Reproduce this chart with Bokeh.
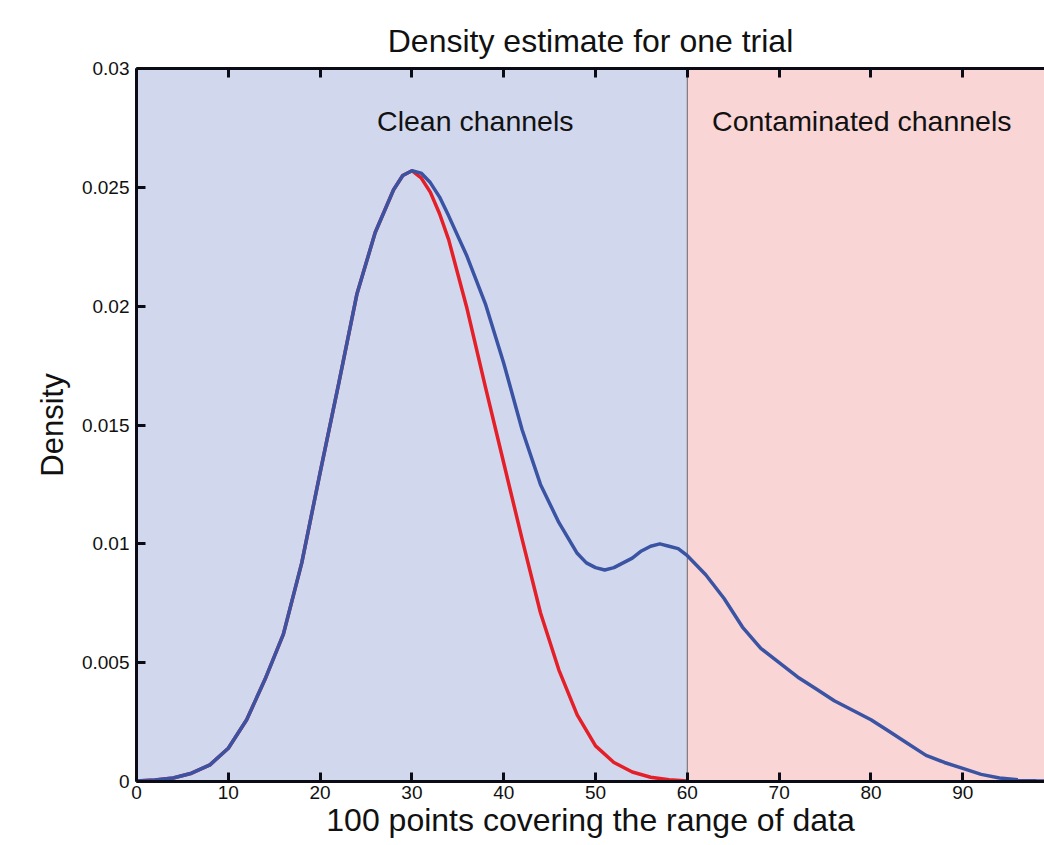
from bokeh.plotting import figure
from bokeh.models import Range1d, LinearAxis, FixedTicker
from bokeh.core.properties import value
from bokeh.embed import file_html
from bokeh.resources import INLINE

# ---- data ----
blue_x = [0, 2, 4, 6, 8, 10, 12, 14, 16, 18, 20, 22, 24, 26, 28, 29, 30, 31, 32, 33, 34, 36, 38,
          40, 42, 44, 46, 48, 49, 50, 51, 52, 53, 54, 55, 56, 57, 58, 59, 60, 62, 64, 66, 68, 70,
          72, 74, 76, 78, 80, 82, 84, 86, 88, 90, 92, 94, 96, 98, 100]
blue_y = [0.00002, 0.00006, 0.00015, 0.00035, 0.0007, 0.0014, 0.0026, 0.0043, 0.0062, 0.0092,
          0.0130, 0.0167, 0.0205, 0.0231, 0.0249, 0.0255, 0.0257, 0.0256, 0.0252, 0.0246, 0.0238,
          0.0221, 0.0201, 0.0176, 0.0148, 0.0125, 0.0109, 0.0096, 0.0092, 0.0090, 0.0089, 0.0090,
          0.0092, 0.0094, 0.0097, 0.0099, 0.0100, 0.0099, 0.0098, 0.0095, 0.0087, 0.0077, 0.0065,
          0.0056, 0.0050, 0.0044, 0.0039, 0.0034, 0.0030, 0.0026, 0.0021, 0.0016, 0.0011, 0.0008,
          0.00055, 0.0003, 0.00015, 0.00007, 0.00003, 0.00001]

red_x = [0, 2, 4, 6, 8, 10, 12, 14, 16, 18, 20, 22, 24, 26, 28, 29, 30, 31, 32, 33, 34, 36, 38,
         40, 42, 44, 46, 48, 50, 52, 54, 56, 58, 60]
red_y = [0.00002, 0.00006, 0.00015, 0.00035, 0.0007, 0.0014, 0.0026, 0.0043, 0.0062, 0.0092,
         0.0130, 0.0167, 0.0205, 0.0231, 0.0249, 0.0255, 0.0257, 0.0254, 0.0248, 0.0239, 0.0228,
         0.0199, 0.0166, 0.0134, 0.0102, 0.0071, 0.0047, 0.0028, 0.0015, 0.0008, 0.0004, 0.00018,
         0.00007, 0.00002]

region_left = [0, 60]
region_right = [60, 100]
region_colors = ["#d1d8ed", "#f9d5d6"]
region_names = ["Clean channels", "Contaminated channels"]
region_label_x = [36.9, 79.0]
threshold = 60

x_ticks = [0, 10, 20, 30, 40, 50, 60, 70, 80, 90, 100]
y_ticks = [0, 0.005, 0.01, 0.015, 0.02, 0.025, 0.03]
y_tick_labels = ["0", "0.005", "0.01", "0.015", "0.02", "0.025", "0.03"]

FONT = "Liberation Sans"
AXC = "#0b0b16"
TXT = "#111111"

p = figure(width=1044, height=845, output_backend="svg", toolbar_location=None,
           x_range=Range1d(0, 98.9), y_range=Range1d(0, 0.03),
           x_axis_location=None, y_axis_location=None,
           title="Density estimate for one trial")
p.min_border_left = 136
p.min_border_top = 68
p.min_border_right = 0
p.min_border_bottom = 64
p.outline_line_color = None
p.xgrid.visible = False
p.ygrid.visible = False
p.background_fill_color = "white"
p.border_fill_color = "white"

p.title.text_font = FONT
p.title.text_font_size = "32px"
p.title.text_font_style = "normal"
p.title.text_color = TXT
p.title.align = "center"
p.title.offset = 5
p.title.standoff = 19

# background regions
p.quad(left=region_left, right=region_right, bottom=[y_ticks[0]] * 2, top=[y_ticks[-1]] * 2,
       fill_color=region_colors, line_color=None)
# threshold line
p.segment(x0=[threshold], y0=[y_ticks[0]], x1=[threshold], y1=[y_ticks[-1]],
          line_color="#1a0f0f", line_width=1.2, line_dash="1 1")

# curves
p.line(red_x, red_y, line_color="#e41f28", line_width=3.5, line_join="round")
p.line(blue_x, blue_y, line_color="#3a53a3", line_width=3.5, line_join="round")

# region labels
p.text(x=region_label_x, y=[0.0278, 0.0278], text=region_names,
       text_font=value(FONT), text_font_size="28.5px", text_color=TXT,
       text_align="center", text_baseline="middle")

def style_axis(ax):
    ax.axis_line_color = AXC
    ax.axis_line_width = 3
    ax.major_tick_line_color = AXC
    ax.major_tick_line_width = 3
    ax.major_tick_in = 9
    ax.major_tick_out = 0
    ax.minor_tick_line_color = None
    ax.major_label_text_font = FONT
    ax.major_label_text_font_size = "19px"
    ax.major_label_text_color = TXT
    ax.axis_label_text_font = FONT
    ax.axis_label_text_font_style = "normal"
    ax.axis_label_text_color = TXT

xb = LinearAxis(ticker=FixedTicker(ticks=x_ticks))
style_axis(xb)
xb.major_label_standoff = 4
xb.axis_label = "100 points covering the range of data"
xb.axis_label_text_font_size = "32px"
xb.axis_label_standoff = 0
p.add_layout(xb, "below")

xt = LinearAxis(ticker=FixedTicker(ticks=x_ticks))
style_axis(xt)
xt.major_label_overrides = {t: "" for t in x_ticks}
xt.major_label_standoff = 0
p.add_layout(xt, "above")

yl = LinearAxis(ticker=FixedTicker(ticks=y_ticks))
style_axis(yl)
yl.major_label_overrides = {t: s for t, s in zip(y_ticks, y_tick_labels)}
yl.major_label_standoff = 7
yl.axis_label = "Density"
yl.axis_label_text_font_size = "31px"
yl.axis_label_standoff = 9
p.add_layout(yl, "left")

open("out.html", "w").write(file_html(p, INLINE))
